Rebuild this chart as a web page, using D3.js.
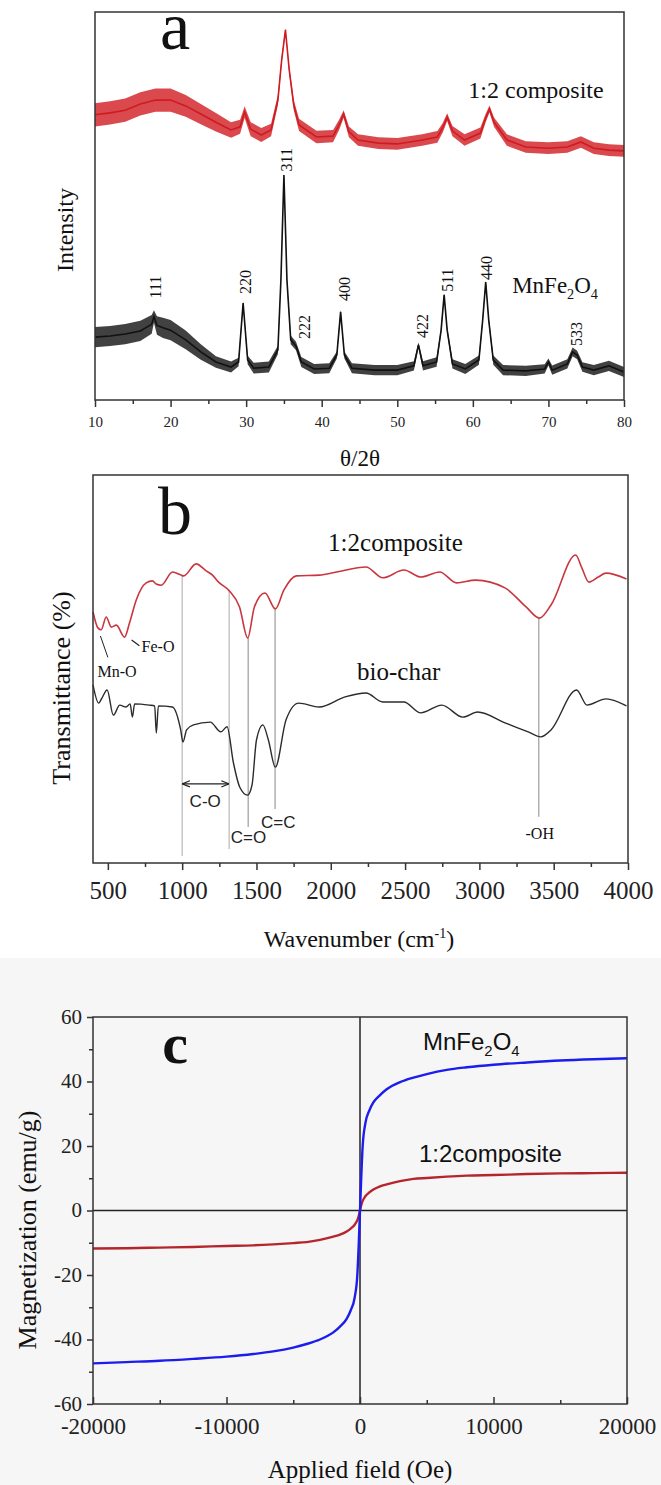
<!DOCTYPE html>
<html>
<head>
<meta charset="utf-8">
<script src="https://cdn.jsdelivr.net/npm/d3@7"></script>
<style>
  body { margin: 0; background: #fff; }
  svg { display: block; }
</style>
</head>
<body>
<script>
// ---------- panel a : XRD ----------
var xrdTicks = [10, 20, 30, 40, 50, 60, 70, 80],
    xrdMinor = [15, 25, 35, 45, 55, 65, 75];

var compAngle = [10,12,14,16,18,20,22,24,26,28,29.2,29.8,30.6,32,33.3,34.2,34.7,35.2,35.7,36.3,37,39.3,41.5,42.3,42.9,43.6,44.8,47.5,50,53.3,55.3,56.0,56.6,57.3,58.9,61.0,61.7,62.2,62.8,64.5,67,70,72.5,74.3,76,78,80];
var compInt   = [73.5,74.0,74.7,76.3,77.3,77.3,75.8,73.7,71.6,69.6,70.4,74.2,69.8,68.3,69.6,77.3,87.6,95.4,85.1,76.0,70.9,67.8,68.0,70.9,73.7,69.1,67.0,66.2,66.0,67.0,67.8,70.1,72.9,69.3,67.0,68.8,72.7,75.0,71.6,67.0,65.2,64.9,65.2,66.5,64.9,64.4,64.2];
// half width of the noise band
var compNoise = [3.0,3.0,3.0,3.0,3.0,3.0,2.8,2.6,2.4,2.0,1.8,1.5,1.8,1.8,1.6,1.3,0.9,0.5,0.9,1.3,1.6,1.6,1.6,1.3,1.0,1.4,1.5,1.5,1.5,1.5,1.5,1.2,1.0,1.3,1.5,1.4,1.1,0.9,1.2,1.5,1.5,1.5,1.5,1.5,1.5,1.5,1.5];

var mnAngle = [10,12,14,16,17.5,17.8,18.2,19,20,22,24,26,28,29.0,29.6,30.2,31,33,34.2,34.6,35.0,35.4,35.9,36.6,37.3,39,41,42.0,42.5,43.0,44,47,50,52.2,52.8,53.4,55.2,55.8,56.2,56.6,57.3,59,60.8,61.3,61.7,62.1,62.7,64,67,69.5,70.0,70.5,72.5,73.2,73.8,74.5,76,78,80];
var mnInt   = [16.2,16.5,17.0,17.8,19.5,21.5,19.2,18.6,18.0,15.5,12.4,9.8,8.5,9.8,25.0,10.3,8.2,8.5,12.9,30.9,58.0,30.9,15.5,13.9,9.8,8.0,8.2,11.6,22.7,11.6,8.2,7.7,7.7,8.8,14.2,8.8,9.8,18.0,27.1,18.0,9.3,8.0,10.3,20.6,30.4,20.6,10.3,7.7,7.5,8.0,9.8,7.7,9.3,12.4,11.6,8.5,7.7,8.8,7.2];
var mnNoise = [2.6,2.6,2.6,2.6,2.4,1.6,2.4,2.6,2.6,2.4,2.0,1.5,1.4,1.1,0.5,1.1,1.4,1.4,1.1,0.6,0.4,0.6,1.1,1.1,1.3,1.3,1.3,0.9,0.5,0.9,1.3,1.3,1.3,1.2,0.7,1.2,1.2,0.7,0.4,0.7,1.2,1.3,1.2,0.7,0.4,0.7,1.2,1.3,1.3,1.2,0.9,1.2,1.2,1.1,1.1,1.2,1.3,1.3,1.3];

var peakNames = ['111', '220', '311', '222', '400', '422', '511', '440', '533'],
    peakAngle = [18.1, 30.0, 35.4, 37.7, 43.1, 53.3, 56.7, 61.8, 73.7],
    peakLabelInt = [29.1, 30.4, 61.9, 18.8, 28.6, 19.1, 30.9, 34.0, 17.0];

// ---------- panel b : FTIR ----------
var ftirTicks = [500, 1000, 1500, 2000, 2500, 3000, 3500, 4000],
    ftirMinor = [750, 1250, 1750, 2250, 2750, 3250, 3750];

var compWave = [400,433,455,489,523,557,612,646,691,758,800,825,859,935,993,1010,1094,1161,1204,1245,1318,1386,1441,1486,1557,1627,1685,1768,1923,2039,2237,2350,2492,2606,2733,2846,2974,3172,3314,3405,3482,3648,3690,3737,3800,3852,3990];
var compT    = [64.7,60.6,60.1,63.4,60.8,61.3,58.2,61.9,67.8,72.2,72.7,71.9,71.6,75.0,74.2,74.0,77.1,75.3,74.2,72.4,70.1,66.0,58.0,66.0,69.6,65.5,70.4,74.0,74.2,75.0,76.3,73.5,75.5,73.7,75.0,72.2,72.9,70.9,66.0,63.1,66.5,79.4,76.0,72.4,73.7,74.7,73.2];

var charWave = [400,438,460,495,537,580,622,650,665,680,778,815,826,840,934,990,1005,1030,1076,1189,1260,1302,1345,1387,1440,1470,1500,1543,1580,1627,1699,1784,1923,2096,2237,2350,2492,2606,2747,2889,2988,3172,3328,3413,3482,3654,3724,3852,3990];
var charT    = [45.9,41.2,42.5,44.6,38.1,40.7,40.2,41.0,37.6,41.0,40.7,40.5,33.5,40.5,40.2,34.3,31.2,34.3,35.6,36.3,33.8,35.1,25.8,19.6,17.5,20.1,31.7,35.6,31.7,24.7,36.9,41.2,40.2,42.8,43.8,41.5,41.5,38.7,40.7,37.6,38.9,36.1,33.8,32.5,34.3,44.6,40.7,42.3,40.5];

// guide lines: wavenumber, top and bottom (same units as T)
var guideWave = [1000, 1316, 1444, 1625, 3400],
    guideTop  = [74.2, 70.4, 58.0, 65.5, 63.1],
    guideBot  = [1.8, 3.6, 9.3, 13.9, 11.9];

// ---------- panel c : VSM ----------
var fieldTicks = [-20000, -10000, 0, 10000, 20000],
    fieldMinor = [-15000, -5000, 5000, 15000],
    magTicks = [-60, -40, -20, 0, 20, 40, 60],
    magMinor = [-50, -30, -10, 10, 30, 50];

var field = [-20000,-17500,-15000,-12500,-10000,-8000,-6500,-5000,-4000,-3000,-2000,-1500,-1000,-700,-400,-200,-100,0,100,200,400,700,1000,1500,2000,3000,4000,5000,6500,8000,10000,12500,15000,17500,20000];
var magMn   = [-47.4,-47.0,-46.6,-46.0,-45.3,-44.5,-43.7,-42.5,-41.4,-40.0,-37.8,-36.0,-33.6,-31.0,-27.0,-20.0,-11.0,0,11.0,20.0,27.0,31.0,33.5,35.8,37.6,39.8,41.2,42.3,43.6,44.4,45.2,45.9,46.5,46.9,47.2];
var magComp = [-11.8,-11.7,-11.5,-11.3,-11.0,-10.8,-10.5,-10.1,-9.8,-9.1,-8.1,-7.5,-6.5,-5.6,-4.4,-3.0,-1.8,0,1.8,3.0,4.4,5.6,6.5,7.5,8.1,9.1,9.8,10.1,10.5,10.8,11.0,11.3,11.5,11.6,11.7];

// ---------------------------------------------------------------
var serif = '"Liberation Serif", "Times New Roman", serif',
    sans = '"Liberation Sans", Arial, sans-serif';

var svg = d3.select('body').append('svg')
    .attr('width', 661)
    .attr('height', 1485);

svg.append('rect').attr('width', 661).attr('height', 1485).attr('fill', '#fff');
svg.append('rect').attr('y', 958).attr('width', 661).attr('height', 527).attr('fill', '#f6f6f6');

function label(g, x, y, s, size, o) {
    o = o || {};
    return g.append('text')
        .attr('x', x)
        .attr('y', y)
        .style('font-family', o.family || serif)
        .attr('font-size', size)
        .attr('font-weight', o.weight || 'normal')
        .attr('text-anchor', o.anchor || 'start')
        .attr('fill', o.fill || '#111')
        .text(s);
}

function vlabel(g, x, y, s, size) {
    return g.append('text')
        .attr('transform', 'translate(' + x + ',' + y + ') rotate(-90)')
        .attr('text-anchor', 'middle')
        .attr('dy', '0.35em')
        .style('font-family', serif)
        .attr('font-size', size)
        .attr('fill', '#111')
        .text(s);
}

function formula(g, x, y, size, family) {
    var t = g.append('text')
        .attr('x', x)
        .attr('y', y)
        .style('font-family', family)
        .attr('font-size', size)
        .attr('fill', '#111');
    var sub = size * 0.62, drop = size * 0.28;
    t.append('tspan').text('MnFe');
    t.append('tspan').attr('dy', drop).attr('font-size', sub).text('2');
    t.append('tspan').attr('dy', -drop).text('O');
    t.append('tspan').attr('dy', drop).attr('font-size', sub).text('4');
    return t;
}

function frame(g, x, y) {
    var r = x.range(), h = y.range();
    g.append('rect')
        .attr('x', r[0])
        .attr('y', h[1])
        .attr('width', r[1] - r[0])
        .attr('height', h[0] - h[1])
        .attr('fill', 'none')
        .attr('stroke', '#333')
        .attr('stroke-width', 1.5);
}

function styleAxis(ax, size) {
    ax.select('.domain').remove();
    ax.selectAll('line').attr('stroke', '#333').attr('stroke-width', 1.5);
    ax.selectAll('text')
        .style('font-family', serif)
        .style('font-size', size + 'px')
        .attr('fill', '#222');
}

function xAxis(g, x, yPos, ticks, minor, major, small, pad, size) {
    var a = g.append('g')
        .attr('transform', 'translate(0,' + yPos + ')')
        .call(d3.axisBottom(x).tickValues(ticks).tickSize(major).tickPadding(pad).tickFormat(function(d){ return String(d); }));
    styleAxis(a, size);
    var m = g.append('g')
        .attr('transform', 'translate(0,' + yPos + ')')
        .call(d3.axisBottom(x).tickValues(minor).tickSize(small).tickFormat(''));
    styleAxis(m, size);
}

// ================= panel a =================
var ga = svg.append('g');
var xa = d3.scaleLinear().domain([10, 80]).range([95, 624]),
    ya = d3.scaleLinear().domain([0, 100]).range([400, 12]);

function xrd(angle, inten, noise, color) {
    var pts = angle.map(function(a, i){ return [a, inten[i], noise[i]]; });
    ga.append('path')
        .datum(pts)
        .attr('d', d3.area()
            .x(function(d){ return xa(d[0]); })
            .y0(function(d){ return ya(d[1] - d[2]); })
            .y1(function(d){ return ya(d[1] + d[2]); }))
        .attr('fill', color)
        .attr('opacity', 0.8);
    ga.append('path')
        .datum(pts)
        .attr('d', d3.line()
            .x(function(d){ return xa(d[0]); })
            .y(function(d){ return ya(d[1]); }))
        .attr('fill', 'none')
        .attr('stroke', color)
        .attr('stroke-width', 1.6);
}

xrd(compAngle, compInt, compNoise, '#cf1b21');
xrd(mnAngle, mnInt, mnNoise, '#111');

peakNames.forEach(function(p, i){
    ga.append('text')
        .attr('transform', 'translate(' + xa(peakAngle[i]) + ',' + ya(peakLabelInt[i]) + ') rotate(-90)')
        .attr('text-anchor', 'middle')
        .attr('dy', '0.33em')
        .style('font-family', serif)
        .attr('font-size', 16)
        .attr('fill', '#111')
        .text(p);
});

frame(ga, xa, ya);
xAxis(ga, xa, 400, xrdTicks, xrdMinor, 7, 4, 9, 15);

label(ga, 175, 49, 'a', 68, { anchor: 'middle' });
label(ga, xa(59.4), ya(77.8), '1:2 composite', 24);
formula(ga, xa(65.2), ya(27.6), 23, serif);
vlabel(ga, 65, 230, 'Intensity', 24);
label(ga, 360, 466, '\u03b8/2\u03b8', 23, { anchor: 'middle' });

// ================= panel b =================
var gb = svg.append('g');
var xb = d3.scaleLinear().domain([400, 4000]).range([93, 628]),
    yb = d3.scaleLinear().domain([0, 100]).range([863, 475]);

guideWave.forEach(function(w, i){
    gb.append('line')
        .attr('x1', xb(w)).attr('x2', xb(w))
        .attr('y1', yb(guideTop[i])).attr('y2', yb(guideBot[i]))
        .attr('stroke', i < 2 ? '#aaa' : '#888')
        .attr('stroke-width', 1);
});

function ftir(wave, t, color, width) {
    gb.append('path')
        .datum(wave.map(function(w, i){ return [w, t[i]]; }))
        .attr('d', d3.line()
            .curve(d3.curveMonotoneX)
            .x(function(d){ return xb(d[0]); })
            .y(function(d){ return yb(d[1]); }))
        .attr('fill', 'none')
        .attr('stroke', color)
        .attr('stroke-width', width);
}

ftir(compWave, compT, '#c9363e', 1.6);
ftir(charWave, charT, '#2b2b2b', 1.4);

// leader lines for Mn-O and Fe-O
gb.append('line')
    .attr('x1', xb(450)).attr('y1', yb(58.5))
    .attr('x2', xb(500)).attr('y2', yb(53.0))
    .attr('stroke', '#222').attr('stroke-width', 1);
gb.append('line')
    .attr('x1', xb(660)).attr('y1', yb(57.5))
    .attr('x2', xb(712)).attr('y2', yb(56.0))
    .attr('stroke', '#222').attr('stroke-width', 1.2);

// C-O double arrow
var defs = svg.append('defs');
['arrEnd', 'arrStart'].forEach(function(id, i){
    defs.append('marker')
        .attr('id', id)
        .attr('viewBox', '0 0 10 10')
        .attr('refX', i ? 0 : 10).attr('refY', 5)
        .attr('markerWidth', 6).attr('markerHeight', 6)
        .attr('orient', 'auto')
        .append('path')
        .attr('d', i ? 'M10 1 L0 5 L10 9' : 'M0 1 L10 5 L0 9')
        .attr('fill', 'none')
        .attr('stroke', '#222')
        .attr('stroke-width', 1.5);
});
gb.append('line')
    .attr('x1', xb(1000)).attr('x2', xb(1316))
    .attr('y1', yb(20.4)).attr('y2', yb(20.4))
    .attr('stroke', '#222').attr('stroke-width', 1.3)
    .attr('marker-start', 'url(#arrStart)')
    .attr('marker-end', 'url(#arrEnd)');

frame(gb, xb, yb);
xAxis(gb, xb, 863, ftirTicks, ftirMinor, 7, 4, 11, 25);

label(gb, 175, 534, 'b', 68, { anchor: 'middle' });
label(gb, xb(1982), yb(80.5), '1:2composite', 25);
label(gb, xb(2177), yb(47.2), 'bio-char', 25);
label(gb, xb(430), yb(47.9), 'Mn-O', 16);
label(gb, xb(727), yb(54.4), 'Fe-O', 16);
label(gb, xb(1155), yb(14.4), 'C-O', 17, { anchor: 'middle', family: sans, fill: '#222' });
label(gb, xb(1446), yb(5.2), 'C=O', 17, { anchor: 'middle', family: sans, fill: '#222' });
label(gb, xb(1647), yb(9.0), 'C=C', 17, { anchor: 'middle', family: sans, fill: '#222' });
label(gb, xb(3406), yb(6.3), '-OH', 16, { anchor: 'middle' });
vlabel(gb, 61, 688, 'Transmittance (%)', 26);

var wn = label(gb, 359, 947, 'Wavenumber (cm', 24, { anchor: 'middle' });
wn.append('tspan').attr('dy', -9).attr('font-size', 14).text('-1');
wn.append('tspan').attr('dy', 9).text(')');

// ================= panel c =================
var gc = svg.append('g');
var xc = d3.scaleLinear().domain([-20000, 20000]).range([93, 627]),
    yc = d3.scaleLinear().domain([-60, 60]).range([1404, 1017]);

gc.append('line')
    .attr('x1', xc(-20000)).attr('x2', xc(20000))
    .attr('y1', yc(0)).attr('y2', yc(0))
    .attr('stroke', '#222').attr('stroke-width', 1.5);
gc.append('line')
    .attr('x1', xc(0)).attr('x2', xc(0))
    .attr('y1', yc(-60)).attr('y2', yc(60))
    .attr('stroke', '#222').attr('stroke-width', 1.5);

function loop(m, color) {
    gc.append('path')
        .datum(field.map(function(h, i){ return [h, m[i]]; }))
        .attr('d', d3.line()
            .curve(d3.curveMonotoneX)
            .x(function(d){ return xc(d[0]); })
            .y(function(d){ return yc(d[1]); }))
        .attr('fill', 'none')
        .attr('stroke', color)
        .attr('stroke-width', 2.4);
}

loop(magComp, '#b3262b');
loop(magMn, '#1c1ced');

frame(gc, xc, yc);
xAxis(gc, xc, 1404, fieldTicks, fieldMinor, -7, -4, 14, 23);

var ay = gc.append('g')
    .attr('transform', 'translate(93,0)')
    .call(d3.axisLeft(yc).tickValues(magTicks).tickSize(6).tickPadding(5).tickFormat(function(d){ return String(d); }));
styleAxis(ay, 21);
ay.selectAll('text').attr('dy', '0.3em');
var ayMinor = gc.append('g')
    .attr('transform', 'translate(93,0)')
    .call(d3.axisLeft(yc).tickValues(magMinor).tickSize(4).tickFormat(''));
styleAxis(ayMinor, 21);

label(gc, 175, 1063, 'c', 58, { anchor: 'middle', weight: 'bold' });
formula(gc, xc(4720), yc(49.9), 24, sans);
label(gc, xc(4420), yc(14.9), '1:2composite', 24, { family: sans });
vlabel(gc, 27, 1230, 'Magnetization (emu/g)', 26);
label(gc, 360, 1478, 'Applied field (Oe)', 25, { anchor: 'middle' });
</script>
</body>
</html>
